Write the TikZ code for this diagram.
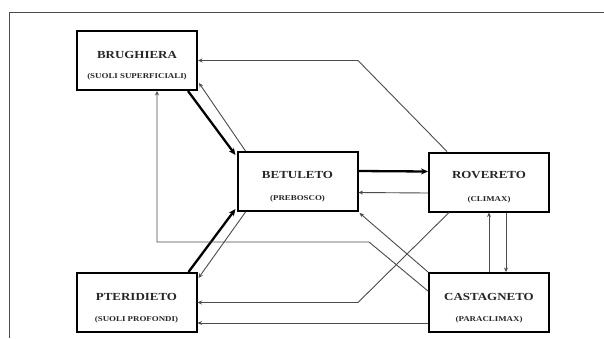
\documentclass[tikz,border=0pt]{standalone}
\usepackage{fontspec}
\newfontfamily\dfont[FakeStretch=1.2]{Liberation Serif}
\usetikzlibrary{arrows.meta,calc}
\begin{document}
\begin{tikzpicture}[x=1pt,y=-1pt,
  boxnode/.style={draw=black,line width=2pt,minimum width=120pt,minimum height=59pt,inner sep=0pt,fill=white},
  titletext/.style={font=\dfont\bfseries\fontsize{10.8}{12}\selectfont,text=black!85,inner sep=0pt},
  subtext/.style={font=\dfont\bfseries\fontsize{7.4}{9}\selectfont,text=black!85,inner sep=0pt},
  thinarrow/.style={draw=black!70,line width=0.9pt,-{Stealth[length=4.5pt,width=4pt]}},
  thickarrow/.style={draw=black,line width=2.3pt,-{Stealth[length=7pt,width=6pt]}},
  frameline/.style={draw=black!70,line width=1pt}
]
\useasboundingbox (0,0) rectangle (604,338);
\fill[white] (0,0) rectangle (604,338);
\draw[frameline] (9,338) -- (9,12) -- (604,12);

% boxes
\node[boxnode] (bru) at (137,60.5) {};
\node[boxnode] (bet) at (297.5,181.5) {};
\node[boxnode] (rov) at (489,182) {};
\node[boxnode] (pte) at (136.5,302.5) {};
\node[boxnode] (cas) at (489,302.5) {};

% texts
\node[titletext] (brut) at ($(bru.north)+(0,25)$) {BRUGHIERA};
\node[subtext] (brus) at ($(bru.north)+(0,47)$) {(SUOLI SUPERFICIALI)};
\node[titletext] (bett) at ($(bet.north)+(0,24)$) {BETULETO};
\node[subtext] (bets) at ($(bet.north)+(0,48)$) {(PREBOSCO)};
\node[titletext] (rovt) at ($(rov.north)+(0,24)$) {ROVERETO};
\node[subtext] (rovs) at ($(rov.north)+(0,48)$) {(CLIMAX)};
\node[titletext] (ptet) at ($(pte.north)+(0,25)$) {PTERIDIETO};
\node[subtext] (ptes) at ($(pte.north)+(0,48)$) {(SUOLI PROFONDI)};
\node[titletext] (cast) at ($(cas.north)+(0,25)$) {CASTAGNETO};
\node[subtext] (cass) at ($(cas.north)+(0,48)$) {(PARACLIMAX)};

% connectors
\draw[thinarrow] ($(rov.north)+(-42,0)$) -- (358,60.5) -- (bru.east);
\draw[thickarrow] ($(bru.south east)+(-10,0)$) -- ($(bet.north west)+(-1,4)$);
\draw[thinarrow] ($(bet.north west)+(9,0)$) -- ($(bru.south east)+(1,-8)$);
\draw[thickarrow] ($(bet.north east)+(0,20)$) -- ($(rov.north west)+(0,20)$);
\draw[thinarrow] ($(rov.north west)+(0,41.5)$) -- ($(bet.north east)+(0,41.5)$);
\draw[thickarrow] ($(pte.north east)+(-9,0)$) -- ($(bet.south west)+(-1,-3)$);
\draw[thinarrow] ($(bet.south west)+(9,0)$) -- ($(pte.north east)+(1,6)$);
\draw[thinarrow] ($(cas.north west)+(0,19)$) -- (369,242) -- (157,242) -- ($(bru.south)+(20,0)$);
\draw[thinarrow] (cas.north west) -- ($(bet.south east)+(1,1)$);
\draw[thinarrow] ($(rov.south west)+(21,0)$) -- (358,302.5) -- (pte.east);
\draw[thinarrow] ($(cas.south west)+(0,-10)$) -- ($(pte.south east)+(0,-10)$);
\draw[thinarrow] (cas.north) -- (rov.south);
\draw[thinarrow] ($(rov.south)+(17,0)$) -- ($(cas.north)+(17,0)$);
\end{tikzpicture}
\end{document}
